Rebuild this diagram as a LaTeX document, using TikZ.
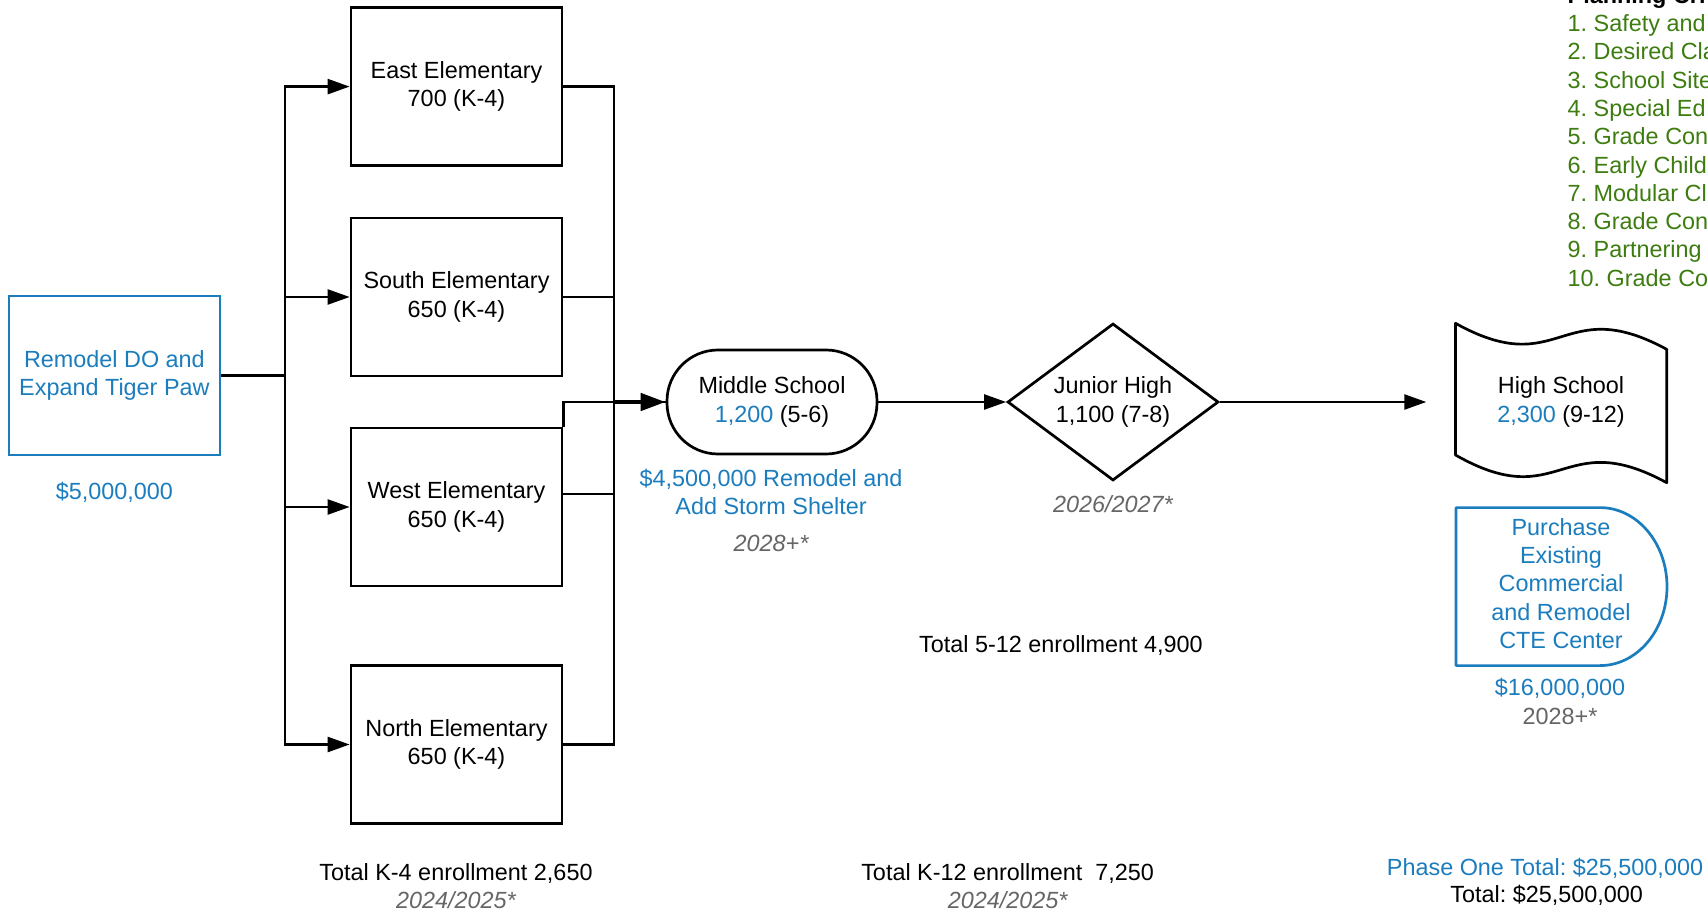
\documentclass[tikz,border=0pt]{standalone}
\usepackage{fontspec}
\setmainfont{Liberation Sans}
\usetikzlibrary{arrows.meta,shapes.geometric,calc}
\definecolor{lblue}{RGB}{28,125,190}
\definecolor{lgreen}{RGB}{61,125,16}
\definecolor{lgray}{RGB}{102,102,102}
\frenchspacing
\begin{document}
\begin{tikzpicture}[x=1pt,y=-1pt,
  every node/.style={font=\fontsize{23.4}{28.4}\selectfont, align=center, inner sep=0pt},
  box/.style={draw, line width=2.7pt, minimum width=211pt, minimum height=158pt},
  conn/.style={line width=2.4pt},
  arr/.style={-{Triangle[length=22pt,width=15pt]}},
  bigarr/.style={line width=4.5pt,-{Triangle[length=25pt,width=17pt]}},
  note/.style={text=lblue},
  datenote/.style={text=lgray, font=\fontsize{23.4}{28.4}\selectfont\itshape},
  listitem/.style={text=lgreen, anchor=base west, align=left}]
\useasboundingbox (0,0) rectangle (1708,915);
\clip (0,0) rectangle (1708,915);
\fill[white] (0,0) rectangle (1708,915);

% left project box
\node[box, draw=lblue, text=lblue, minimum height=159pt] (remodel) at (114.4,375.6) {Remodel DO and\\Expand Tiger Paw};
\node[note] (remodelcost) at (114.4,492) {\$5,000,000};

% elementary schools
\node[box] (east)  at (456.5,86.6)  {East Elementary\\700 (K-4)};
\node[box] (south) at (456.5,297)   {South Elementary\\650 (K-4)};
\node[box] (west)  at (456.5,507)   {West Elementary\\650 (K-4)};
\node[box] (north) at (456.5,744.5) {North Elementary\\650 (K-4)};

% middle school
\node[draw, line width=2.7pt, rounded corners=51pt, minimum width=210pt, minimum height=104pt] (middle) at (772,402)
  {Middle School\\\textcolor{lblue}{1,200} (5-6)};
\node[note] (middlecost) at (771,492) {\$4,500,000 Remodel and\\Add Storm Shelter};
\node[datenote] (middledate) at (771,543.5) {2028+*};

% junior high
\node[draw, line width=2.7pt, diamond, aspect=1.344, minimum width=211pt, minimum height=157pt] (junior) at (1113,402)
  {Junior High\\1,100 (7-8)};
\node[datenote] (juniordate) at (1113,504) {2026/2027*};

% high school (tape shape)
\node[minimum width=211pt, minimum height=158pt] (high) at (1561,402) {High School\\\textcolor{lblue}{2,300} (9-12)};
\draw[line width=2.7pt, line join=round]
  (1455.5,323.3) .. controls (1561,382) and (1561,292) .. (1666.7,349.3)
  -- (1666.7,482.7)
  .. controls (1561,425) and (1561,515) .. (1455.5,455)
  -- cycle;

% CTE center (delay shape)
\node[text=lblue, minimum width=211pt, minimum height=158pt] (cte) at (1561,583.5)
  {Purchase\\Existing\\Commercial\\and Remodel\\CTE Center};
\draw[lblue, line width=2.7pt, line join=round]
  (1456,507.6) -- (1600,507.6) arc[start angle=-90, end angle=90, x radius=67, y radius=79]
  -- (1456,665.6) -- cycle;
\node[note] (ctecost) at (1560,688) {\$16,000,000};
\node[text=lgray] (ctedate) at (1560,716.7) {2028+*};

% totals
\node (total512) at (1061,646) {Total 5-12 enrollment 4,900};
\node (totalk4) at (456,873.4) {Total K-4 enrollment 2,650};
\node[datenote] (totalk4date) at (456,900.5) {2024/2025*};
\node (totalk12) at (1007.6,873.4) {Total K-12 enrollment\ \ 7,250};
\node[datenote] (totalk12date) at (1007.6,900.5) {2024/2025*};
\node[note] (phaseone) at (1545,868.7) {Phase One Total: \$25,500,000};
\node (grandtotal) at (1546.7,895.3) {Total: \$25,500,000};

% planning criteria list (cut off by the page edge)
\node[anchor=base west, align=left, font=\fontsize{23.4}{28.4}\selectfont\bfseries] (listhead) at (1567.5,3.2) {Planning Cri};
\node[listitem] (l1)  at (1567.5,31.5)  {1. Safety and};
\node[listitem] (l2)  at (1567.5,59.8)  {2. Desired Cla};
\node[listitem] (l3)  at (1567.5,88.1)  {3. School Site};
\node[listitem] (l4)  at (1567.5,116.4) {4. Special Ed};
\node[listitem] (l5)  at (1567.5,144.7) {5. Grade Con};
\node[listitem] (l6)  at (1567.5,173.0) {6. Early Child};
\node[listitem] (l7)  at (1567.5,201.3) {7. Modular Cl};
\node[listitem] (l8)  at (1567.5,229.6) {8. Grade Con};
\node[listitem] (l9)  at (1567.5,257.9) {9. Partnering};
\node[listitem] (l10) at (1567.5,286.2) {10. Grade Co};

% connectors
\coordinate (busL) at (285,375.6);
\coordinate (busR) at (614,402);
\draw[line width=3.6pt] (remodel.east) -- (busL);
\foreach \n in {east,south,west,north} \draw[conn,arr] (busL) |- (\n.west);
\draw[conn] (east.east) -| (busR);
\draw[conn] (south.east) -| (busR);
\draw[conn] ($(west.east)+(0,-13)$) -| (busR);
\draw[conn] (north.east) -| (busR);
\draw[conn] (west.north east) |- (middle.west);
\draw[bigarr] (busR) -- (middle.west);
\draw[conn,arr] (middle.east) -- (junior.west);
\draw[conn,arr,shorten >=29pt] (junior.east) -- (high.west);
\end{tikzpicture}
\end{document}
